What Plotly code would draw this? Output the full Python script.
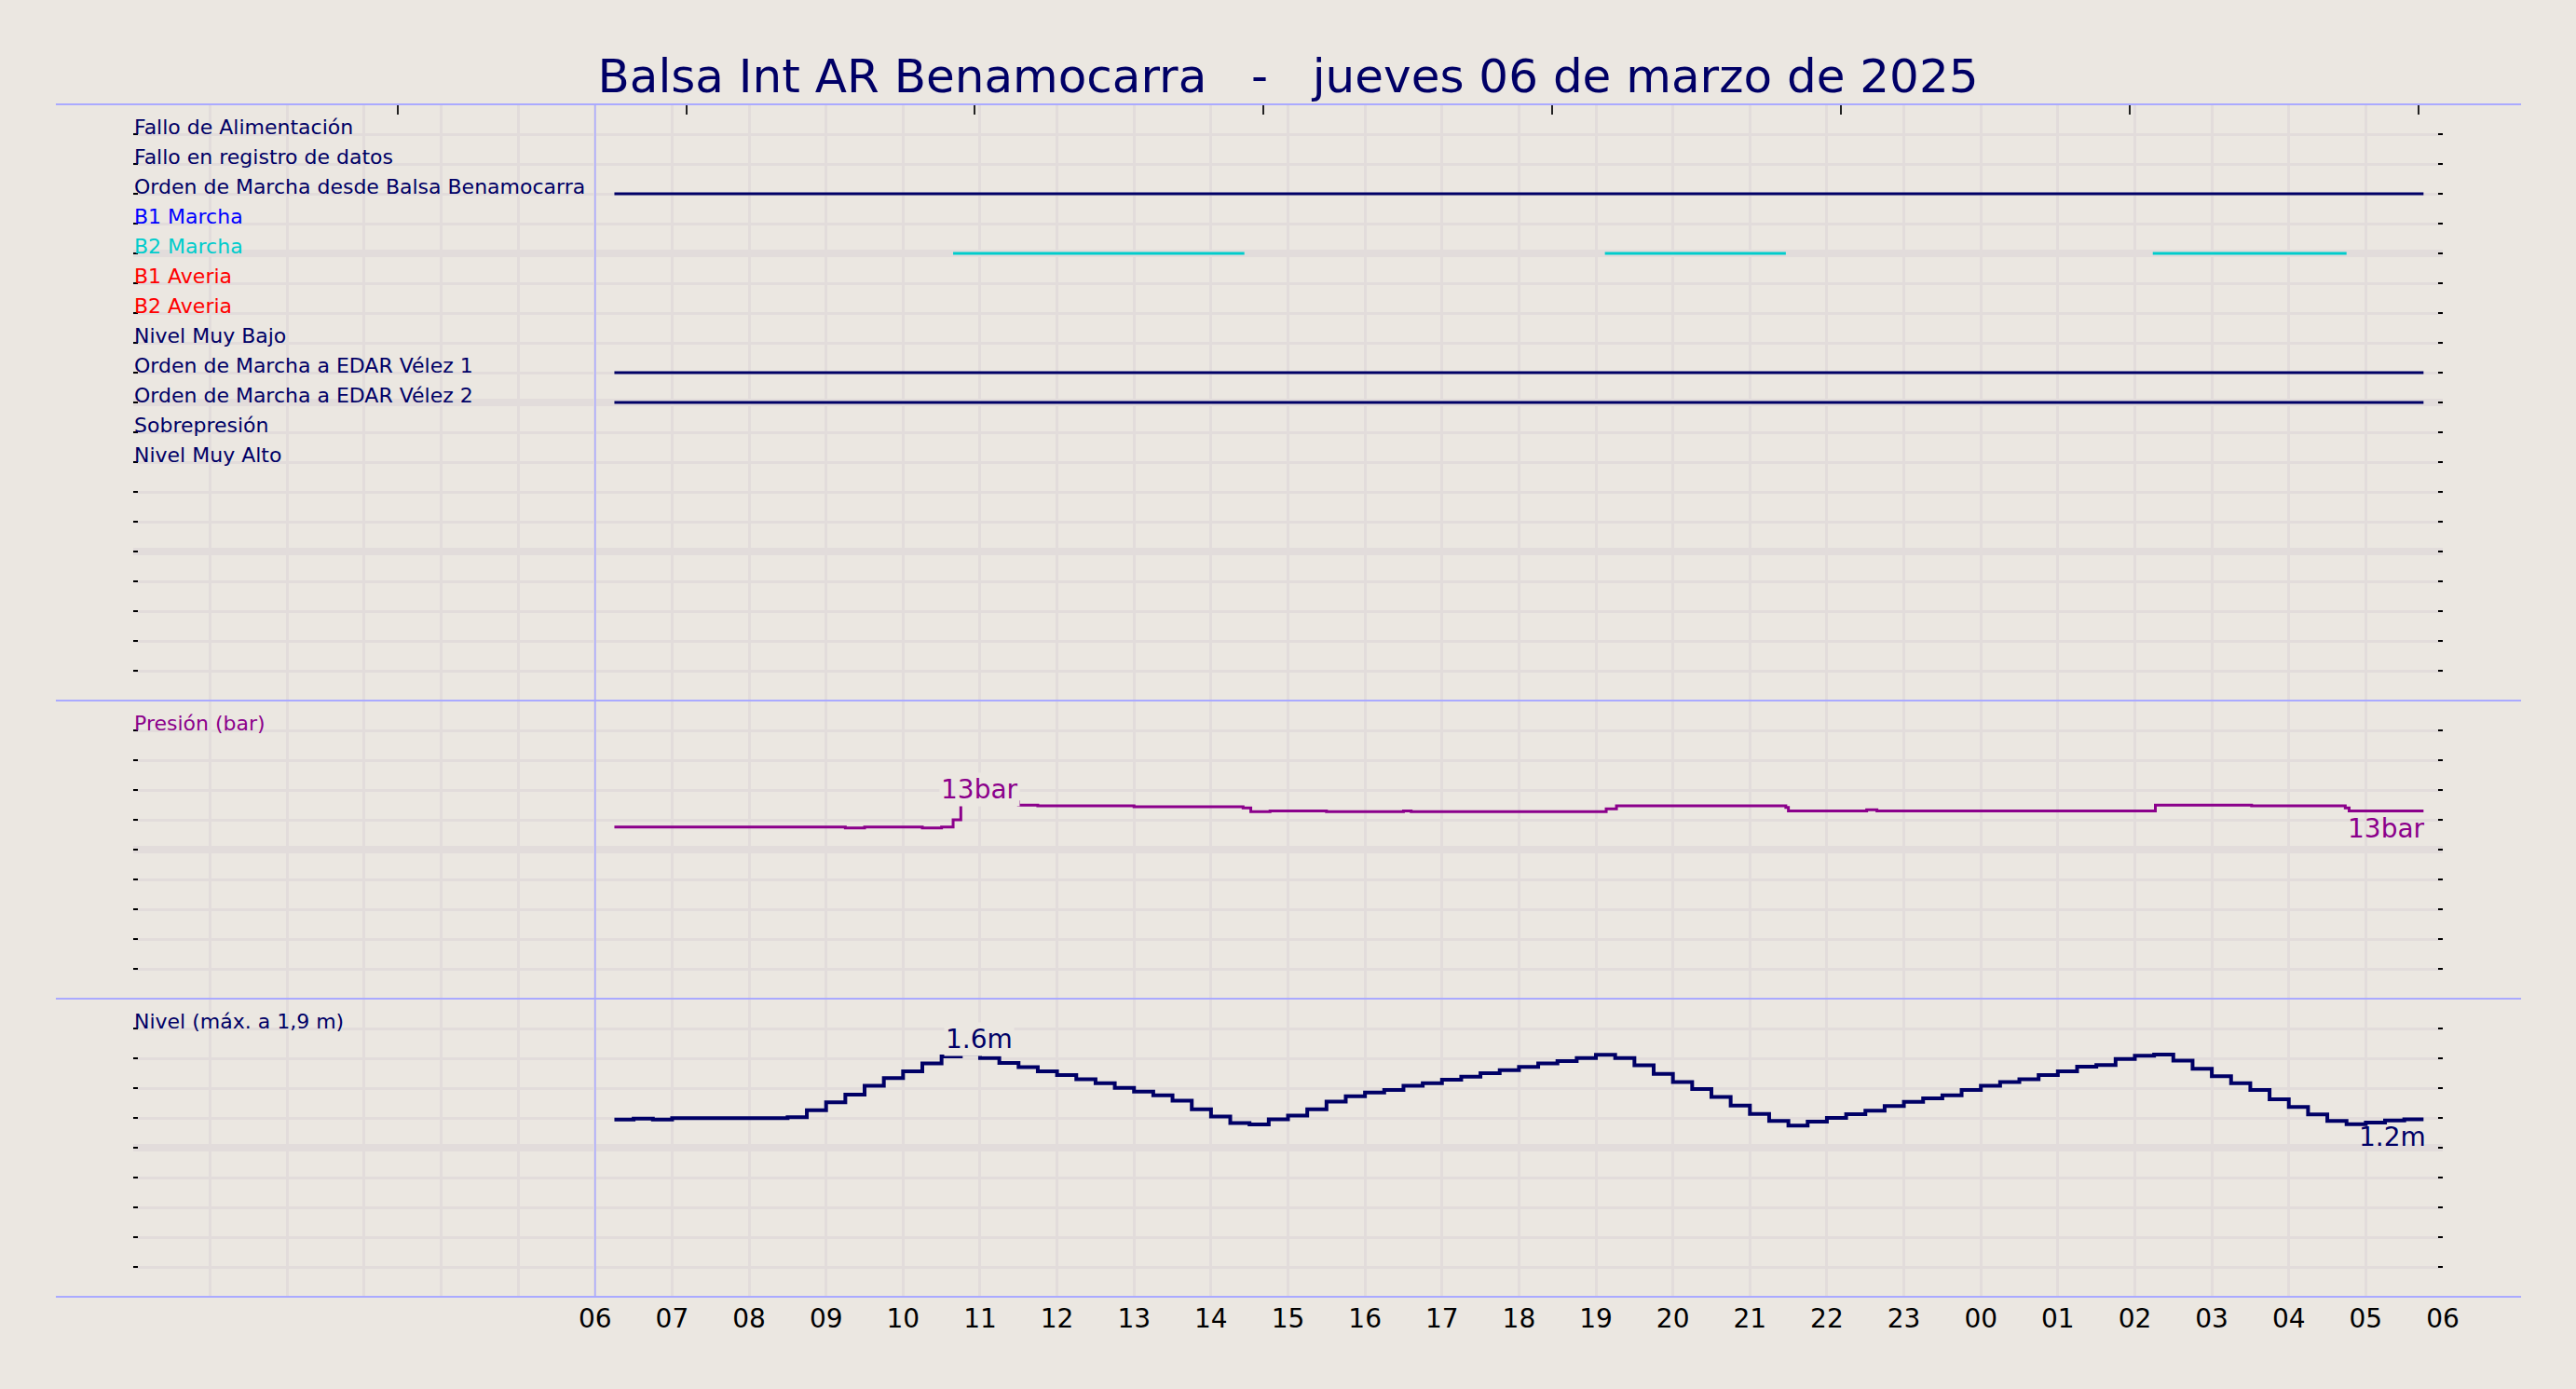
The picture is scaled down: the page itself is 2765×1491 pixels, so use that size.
import pandas as pd
import plotly.graph_objects as go

# ---------------- colours / fonts ----------------
BG = "#ebe7e1"
GRID = "#e2dcdb"
NAVY = "#000066"
PURPLE = "#8b008b"
CYAN = "#00cccc"
BLUE = "#0000ff"
RED = "#ff0000"
SEP = "#aaaaff"
FONT = "DejaVu Sans"

# ---------------- text ----------------
title_text = ("Balsa Int AR Benamocarra" + "\u00a0" * 3 + "-" + "\u00a0" * 3 +
              "jueves 06 de marzo de 2025")

# ---------------- time axis ----------------
x_start = "2025-03-06 00:00"
x_end = "2025-03-07 06:00"
day_start = "2025-03-06 06:00"
hour_ticks = list(pd.date_range(day_start, x_end, freq="h"))
hour_labels = [t.strftime("%H") for t in hour_ticks]
top_ticks = ["2025-03-06 03:26", "2025-03-06 07:11", "2025-03-06 10:56",
             "2025-03-06 14:41", "2025-03-06 18:26", "2025-03-06 22:11",
             "2025-03-07 01:56", "2025-03-07 05:41"]

# ---------------- panel 1 : digital signals ----------------
signal_labels = ["Fallo de Alimentación", "Fallo en registro de datos",
                 "Orden de Marcha desde Balsa Benamocarra", "B1 Marcha",
                 "B2 Marcha", "B1 Averia", "B2 Averia", "Nivel Muy Bajo",
                 "Orden de Marcha a EDAR Vélez 1", "Orden de Marcha a EDAR Vélez 2",
                 "Sobrepresión", "Nivel Muy Alto"]
signal_rows = [1, 2, 3, 4, 5, 6, 7, 8, 9, 10, 11, 12]
signal_colors = [NAVY, NAVY, NAVY, BLUE, CYAN, RED, RED, NAVY, NAVY, NAVY, NAVY, NAVY]
on_balsa = [("2025-03-06 06:15", "2025-03-07 05:45")]
on_b2 = [("2025-03-06 10:39", "2025-03-06 14:26"),
         ("2025-03-06 19:07", "2025-03-06 21:28"),
         ("2025-03-07 02:14", "2025-03-07 04:45")]
on_edar1 = [("2025-03-06 06:15", "2025-03-07 05:45")]
on_edar2 = [("2025-03-06 06:15", "2025-03-07 05:45")]
signal_on = {
    "Orden de Marcha desde Balsa Benamocarra": on_balsa,
    "B2 Marcha": on_b2,
    "Orden de Marcha a EDAR Vélez 1": on_edar1,
    "Orden de Marcha a EDAR Vélez 2": on_edar2,
}

# ---------------- panel 2 : pressure (bar) ----------------
pressure_times = ["2025-03-06 06:15", "2025-03-06 09:15", "2025-03-06 09:30",
                  "2025-03-06 10:15", "2025-03-06 10:30", "2025-03-06 10:39",
                  "2025-03-06 10:45", "2025-03-06 11:30", "2025-03-06 11:45",
                  "2025-03-06 13:00", "2025-03-06 14:25", "2025-03-06 14:31",
                  "2025-03-06 14:46", "2025-03-06 15:30", "2025-03-06 16:30",
                  "2025-03-06 16:36", "2025-03-06 19:08", "2025-03-06 19:16",
                  "2025-03-06 21:28", "2025-03-06 21:30", "2025-03-06 22:31",
                  "2025-03-06 22:39", "2025-03-07 02:16", "2025-03-07 03:31",
                  "2025-03-07 04:44", "2025-03-07 04:47", "2025-03-07 05:45"]
pressure_values = [11.52, 11.46, 11.52, 11.46, 11.52, 12.00, 13.20, 12.98, 12.94,
                   12.87, 12.79, 12.54, 12.60, 12.54, 12.60, 12.54, 12.73, 12.94,
                   12.83, 12.60, 12.67, 12.60, 12.98, 12.94, 12.79, 12.60, 12.60]

# ---------------- panel 3 : level (m) ----------------
level_times = list(pd.date_range("2025-03-06 06:15", "2025-03-07 05:45", freq="15min"))
level_values = [1.189, 1.196, 1.189, 1.198, 1.198, 1.198, 1.198, 1.198, 1.198, 1.204,
                1.252, 1.304, 1.356, 1.415, 1.467, 1.513, 1.565, 1.613, 1.630, 1.602,
                1.569, 1.540, 1.513, 1.488, 1.460, 1.433, 1.402, 1.377, 1.352, 1.315,
                1.258, 1.210, 1.165, 1.156, 1.190, 1.215, 1.258, 1.310, 1.346, 1.371,
                1.388, 1.415, 1.433, 1.456, 1.477, 1.500, 1.521, 1.542, 1.565, 1.581,
                1.602, 1.623, 1.602, 1.553, 1.496, 1.440, 1.394, 1.340, 1.283, 1.227,
                1.179, 1.148, 1.175, 1.200, 1.225, 1.248, 1.279, 1.308, 1.331, 1.352,
                1.388, 1.415, 1.440, 1.460, 1.488, 1.513, 1.544, 1.554, 1.596, 1.617,
                1.625, 1.585, 1.529, 1.479, 1.433, 1.388, 1.325, 1.273, 1.223, 1.179,
                1.158, 1.169, 1.183, 1.190, 1.190]

panel_titles = ["Presión (bar)", "Nivel (máx. a 1,9 m)"]

# ---------------- figure ----------------
fig = go.Figure()

for label, row, color in zip(signal_labels, signal_rows, signal_colors):
    ivs = signal_on.get(label, [])
    if not ivs:
        continue
    xs, ys = [], []
    for s, e in ivs:
        xs += [s, e, None]
        ys += [row, row, None]
    fig.add_trace(go.Scatter(x=xs, y=ys, mode="lines", xaxis="x", yaxis="y",
                             line=dict(color=color, width=3), hoverinfo="skip",
                             showlegend=False))

fig.add_trace(go.Scatter(x=pressure_times, y=pressure_values, mode="lines",
                         line=dict(color=PURPLE, width=3, shape="hv"),
                         xaxis="x", yaxis="y2", showlegend=False))
fig.add_trace(go.Scatter(x=level_times, y=level_values, mode="lines",
                         line=dict(color=NAVY, width=4, shape="hv"),
                         xaxis="x", yaxis="y3", showlegend=False))
# carrier for the top tick marks axis (invisible)
fig.add_trace(go.Scatter(x=top_ticks, y=[None] * len(top_ticks), mode="markers",
                         xaxis="x2", yaxis="y", showlegend=False, hoverinfo="skip"))


def yax(domain, rng, major, minor_dt):
    return dict(domain=domain, range=rng, anchor="x", tickmode="array",
                tickvals=major, showticklabels=False, ticks="inside", ticklen=5,
                tickwidth=2, tickcolor="black", mirror="ticks",
                showgrid=True, gridcolor=GRID, gridwidth=8, zeroline=False,
                showline=False, automargin=False, fixedrange=True,
                minor=dict(tickmode="linear", tick0=0, dtick=minor_dt,
                           ticks="inside", ticklen=5, tickwidth=2,
                           tickcolor="black", showgrid=True, gridcolor=GRID,
                           gridwidth=3))


annotations = []
for label, row, color in zip(signal_labels, signal_rows, signal_colors):
    annotations.append(dict(x=0, xref="paper", y=row, yref="y", text=label,
                            xanchor="left", yanchor="bottom", yshift=-6.5, xshift=-1,
                            showarrow=False,
                            font=dict(family=FONT, size=22, color=color)))
annotations.append(dict(x=0, xref="paper", y=18, yref="y2", text=panel_titles[0],
                        xanchor="left", yanchor="bottom", yshift=-6.5, xshift=-1,
                        showarrow=False, font=dict(family=FONT, size=22, color=PURPLE)))
annotations.append(dict(x=0, xref="paper", y=1.8, yref="y3", text=panel_titles[1],
                        xanchor="left", yanchor="bottom", yshift=-6.5, xshift=-1,
                        showarrow=False, font=dict(family=FONT, size=22, color=NAVY)))

ip = pressure_values.index(max(pressure_values))
il = level_values.index(max(level_values))
annotations += [
    dict(x=pressure_times[ip], y=pressure_values[ip], xref="x", yref="y2",
         text=f"{pressure_values[ip]:.0f}bar", xanchor="center", yanchor="bottom",
         xshift=20, yshift=-5, showarrow=False, bgcolor=BG, borderpad=1,
         font=dict(family=FONT, size=28, color=PURPLE)),
    dict(x=pressure_times[-1], y=pressure_values[-1], xref="x", yref="y2",
         text=f"{pressure_values[-1]:.0f}bar", xanchor="right", yanchor="top",
         xshift=4, yshift=-1, showarrow=False, borderpad=1,
         font=dict(family=FONT, size=28, color=PURPLE)),
    dict(x=level_times[il], y=level_values[il], xref="x", yref="y3",
         text=f"{level_values[il]:.1f}m", xanchor="center", yanchor="bottom",
         xshift=20, yshift=-2.5, showarrow=False, bgcolor=BG, borderpad=1,
         font=dict(family=FONT, size=28, color=NAVY)),
    dict(x=level_times[-1], y=level_values[-1], xref="x", yref="y3",
         text=f"{level_values[-1]:.1f}m", xanchor="right", yanchor="top",
         xshift=5, yshift=0, showarrow=False, borderpad=1,
         font=dict(family=FONT, size=28, color=NAVY)),
]

shapes = []
for yp in [0, 0.25, 0.5, 1]:
    shapes.append(dict(type="line", xref="paper", yref="paper", x0=-0.0335, x1=1.0339,
                       y0=yp, y1=yp, line=dict(color=SEP, width=2)))
shapes.append(dict(type="line", xref="x", yref="paper", x0=day_start, x1=day_start,
                   y0=0, y1=1, line=dict(color=SEP, width=1.5)))

fig.update_layout(
    width=2765, height=1491, template="none",
    margin=dict(l=143, r=143, t=112, b=99, pad=0),
    paper_bgcolor=BG, plot_bgcolor=BG, showlegend=False,
    font=dict(family=FONT, color=NAVY),
    title=dict(text=title_text, x=0.5, xanchor="center", xref="paper",
               y=1 - 81 / 1491, yanchor="middle", yref="container",
               font=dict(family=FONT, size=50, color=NAVY)),
    xaxis=dict(type="date", range=[x_start, x_end], anchor="y3", tickmode="array",
               tickvals=hour_ticks, ticktext=hour_labels, ticks="",
               ticklabelstandoff=4,
               showgrid=True, gridcolor=GRID, gridwidth=3, zeroline=False,
               showline=False, automargin=False, fixedrange=True,
               tickfont=dict(family=FONT, size=28, color="black"),
               minor=dict(tickmode="linear", tick0=x_start, dtick=3600000,
                          showgrid=True, gridcolor=GRID, gridwidth=3, ticks="")),
    xaxis2=dict(type="date", range=[x_start, x_end], overlaying="x", side="top",
                anchor="y", tickmode="array", tickvals=top_ticks, ticks="inside",
                ticklen=11, tickwidth=2, tickcolor="#222222", showticklabels=False,
                showgrid=False, zeroline=False, showline=False, automargin=False,
                fixedrange=True),
    yaxis=yax([0.5, 1.0], [20, 0], [5, 10, 15], 1),
    yaxis2=yax([0.25, 0.5], [0, 20], [10], 2),
    yaxis3=yax([0.0, 0.25], [0, 2], [1], 0.2),
    annotations=annotations,
    shapes=shapes,
)

fig.write_html("out.html",
               config={"displayModeBar": False},
               post_script="document.documentElement.style.margin='0';"
                           "document.body.style.margin='0';"
                           "document.body.style.background='" + BG + "';"
                           "document.body.style.overflow='hidden';")
